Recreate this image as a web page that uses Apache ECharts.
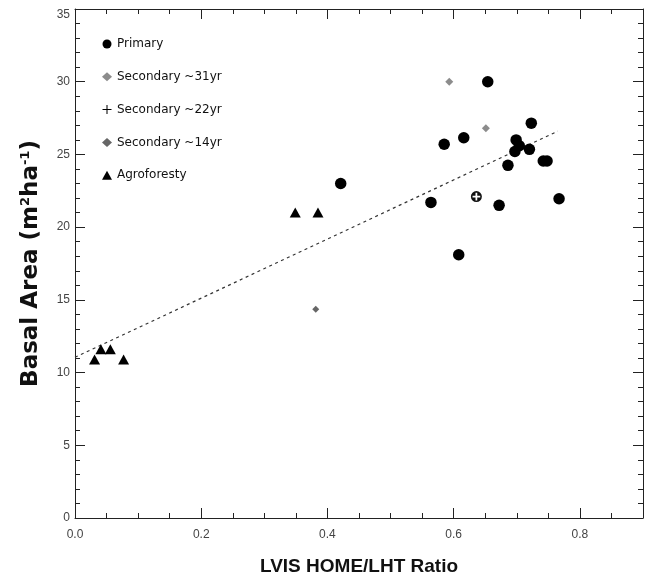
<!DOCTYPE html>
<html>
<head>
<meta charset="utf-8">
<script src="https://cdn.jsdelivr.net/npm/echarts@6/dist/echarts.min.js"></script>
<style>
html,body{margin:0;padding:0;background:#fff;}
#chart{width:646px;height:581px;}
</style>
</head>
<body>
<div id="chart"></div>
<script>
// Data
const primary = [
  [0.654, 30.0], [0.723, 27.15], [0.616, 26.15], [0.585, 25.7], [0.699, 26.0],
  [0.704, 25.6], [0.697, 25.2], [0.720, 25.35], [0.686, 24.25], [0.742, 24.55],
  [0.748, 24.55], [0.564, 21.7], [0.672, 21.5], [0.767, 21.95], [0.608, 18.1],
  [0.421, 23.0]
];
const secondary31 = [[0.593, 30.0], [0.651, 26.8]];
const secondary22 = [[0.636, 22.1]];
const secondary14 = [[0.3815, 14.35]];
const agroforestry = [
  [0.349, 21.0], [0.385, 21.0], [0.041, 11.6], [0.056, 11.6], [0.031, 10.9], [0.077, 10.9]
];
const trend = [[0.0, 11.05], [0.765, 26.6]];
const seriesNames = ['Primary', 'Secondary ~31yr', 'Secondary ~22yr', 'Secondary ~14yr', 'Agroforesty'];

const circledPlus = 'path://M0,-10A10,10,0,1,1,0,10A10,10,0,1,1,0,-10Z M-1.6,-7L-1.6,-1.6L-7,-1.6L-7,1.6L-1.6,1.6L-1.6,7L1.6,7L1.6,1.6L7,1.6L7,-1.6L1.6,-1.6L1.6,-7Z';
const plusIcon = 'path://M-0.8,-7H0.8V-0.8H7V0.8H0.8V7H-0.8V0.8H-7V-0.8H-0.8Z';

const chart = echarts.init(document.getElementById('chart'));
const axisCommon = {
  axisLine: {show: true, onZero: false, lineStyle: {color: '#222', width: 1}},
  splitLine: {show: false}
};
chart.setOption({
  animation: false,
  backgroundColor: '#fff',
  grid: {left: 75, right: 3, top: 9, bottom: 61, containLabel: false},
  legend: {
    orient: 'vertical',
    left: 97, top: 32,
    itemWidth: 10, itemHeight: 9,
    itemGap: 18.8,
    textStyle: {fontFamily: 'DejaVu Sans', fontSize: 12, color: '#111', lineHeight: 14},
    data: [
      {name: 'Primary', icon: 'circle'},
      {name: 'Secondary ~31yr', icon: 'diamond'},
      {name: 'Secondary ~22yr', icon: plusIcon, itemStyle: {color: '#000'}},
      {name: 'Secondary ~14yr', icon: 'diamond'},
      {name: 'Agroforesty', icon: 'triangle'}
    ]
  },
  xAxis: [
    Object.assign({
      type: 'value', min: 0, max: 0.9, interval: 0.2, position: 'bottom',
      axisTick: {show: true, inside: true, length: 10, lineStyle: {color: '#222'}},
      minorTick: {show: true, splitNumber: 4, length: 5, lineStyle: {color: '#222'}},
      axisLabel: {
        margin: 11, color: '#444', fontFamily: 'Liberation Sans', fontSize: 12,
        showMaxLabel: false,
        formatter: v => v.toFixed(1)
      },
      name: 'LVIS HOME/LHT Ratio', nameLocation: 'middle', nameGap: 39,
      nameTextStyle: {fontFamily: 'Liberation Sans', fontWeight: 'bold', fontSize: 19, color: '#111'}
    }, axisCommon),
    Object.assign({
      type: 'value', min: 0, max: 0.9, interval: 0.2, position: 'top',
      axisTick: {show: true, inside: true, length: 10, lineStyle: {color: '#222'}},
      minorTick: {show: true, splitNumber: 4, length: 5, lineStyle: {color: '#222'}},
      axisLabel: {show: false}
    }, axisCommon)
  ],
  yAxis: [
    Object.assign({
      type: 'value', min: 0, max: 35, interval: 5, position: 'left',
      axisTick: {show: true, inside: true, length: 10, lineStyle: {color: '#222'}},
      minorTick: {show: true, splitNumber: 5, length: 5, lineStyle: {color: '#222'}},
      axisLabel: {
        margin: 5, color: '#444', fontFamily: 'Liberation Sans', fontSize: 12,
        formatter: v => v === 35 ? '{t|35}' : String(v),
        rich: {t: {padding: [12, 0, 0, 0], color: '#444', fontFamily: 'Liberation Sans', fontSize: 12}}
      },
      name: 'Basal Area (m{sup|2}ha{sup|-1})', nameLocation: 'middle', nameGap: 32, nameRotate: 90,
      nameTextStyle: {
        fontFamily: 'DejaVu Sans', fontWeight: 'bold', fontSize: 23, color: '#111',
        rich: {sup: {fontFamily: 'DejaVu Sans', fontWeight: 'bold', fontSize: 13, color: '#111', verticalAlign: 'top', padding: [0, 0, 11, 0]}}
      }
    }, axisCommon),
    Object.assign({
      type: 'value', min: 0, max: 35, interval: 5, position: 'right',
      axisTick: {show: true, inside: true, length: 10, lineStyle: {color: '#222'}},
      minorTick: {show: true, splitNumber: 5, length: 5, lineStyle: {color: '#222'}},
      axisLabel: {show: false}
    }, axisCommon)
  ],
  series: [
    {
      name: 'trend', type: 'line', data: trend, showSymbol: false, symbol: 'none',
      lineStyle: {color: '#333', width: 1.2, type: [3, 3.5]}, silent: true, z: 1
    },
    {name: seriesNames[0], type: 'scatter', data: primary, symbol: 'circle', symbolSize: 11.5,
     itemStyle: {color: '#000', opacity: 1}, z: 3},
    {name: seriesNames[1], type: 'scatter', data: secondary31, symbol: 'diamond', symbolSize: 8,
     itemStyle: {color: '#8c8c8c', opacity: 1}, z: 4},
    {name: seriesNames[2], type: 'scatter', data: secondary22, symbol: circledPlus, symbolSize: 11,
     itemStyle: {color: '#111', opacity: 1}, z: 4},
    {name: seriesNames[3], type: 'scatter', data: secondary14, symbol: 'diamond', symbolSize: 7,
     itemStyle: {color: '#666', opacity: 1}, z: 4},
    {name: seriesNames[4], type: 'scatter', data: agroforestry, symbol: 'triangle', symbolSize: [11, 10],
     itemStyle: {color: '#000', opacity: 1}, z: 3}
  ]
});
</script>
</body>
</html>
